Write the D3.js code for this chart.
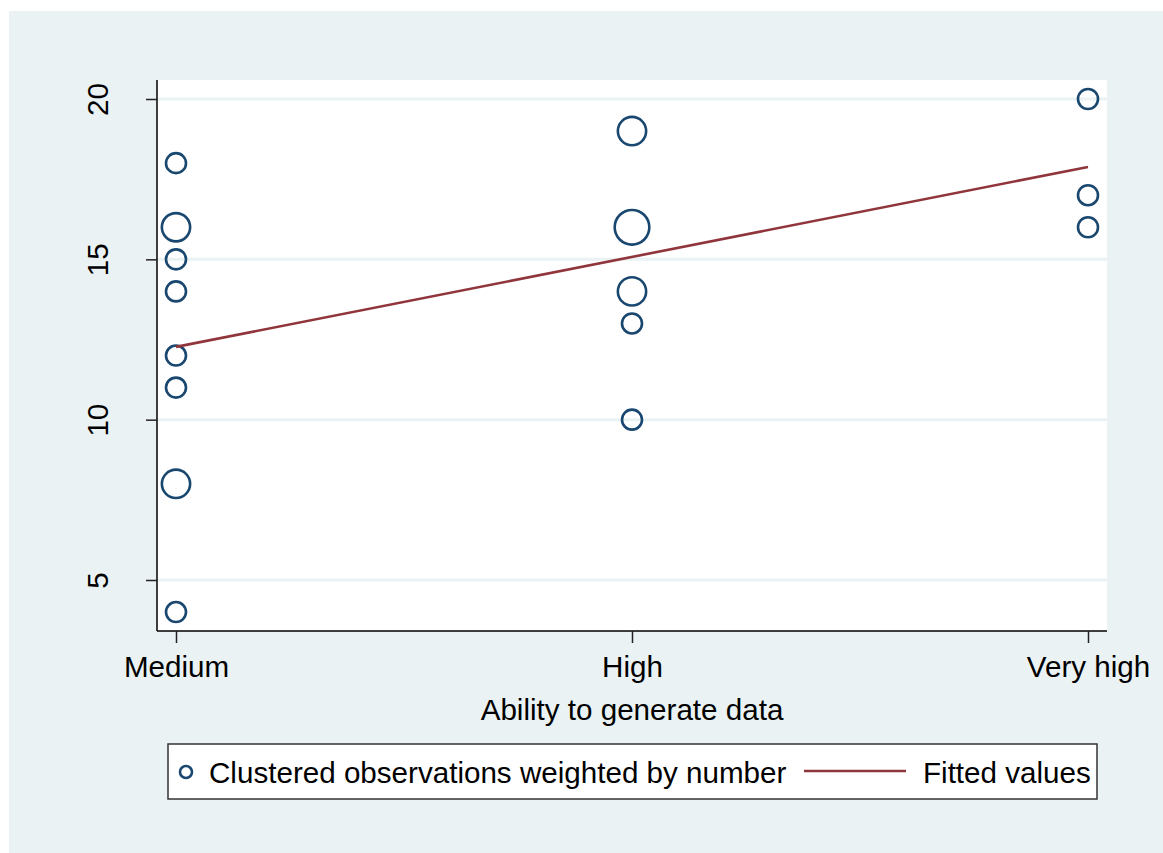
<!DOCTYPE html>
<html><head><meta charset="utf-8">
<script src="https://cdn.jsdelivr.net/npm/d3@7"></script>
<style>body{margin:0;background:#fff}svg{display:block}text{font-family:"Liberation Sans",Arial,sans-serif;fill:#000}</style>
</head><body><svg id="c" width="1163" height="853"></svg>
<script>
const categories = ["Medium","High","Very high"];
const pointCat   = ["Medium","Medium","Medium","Medium","Medium","Medium","Medium","Medium","High","High","High","High","High","Very high","Very high","Very high"];
const pointValue = [18,16,15,14,12,11,8,4,19,16,14,13,10,20,17,16];
const pointWeight= [1,2,1,1,1,1,2,1,2,3,2,1,1,1,1,1];
const fittedCat  = ["Medium","Very high"];
const fittedValue= [12.27,17.88];
const yTicks = [5,10,15,20];
const xTitle = "Ability to generate data";
const legendLabels = ["Clustered observations weighted by number","Fitted values"];

const FS = "29.6px";
const svg = d3.select("#c");
const bg = "#eaf2f3", navy = "#1a476f", red = "#90353b";
svg.append("rect").attr("x",9).attr("y",11).attr("width",1154).attr("height",842).attr("fill",bg);

const L=157,R=1107,T=80,B=631;
const catIdx = d3.scaleOrdinal().domain(categories).range([1,2,3]);
const x = d3.scaleLinear().domain([1-19/456, 3+19/456]).range([L,R]);
const y = d3.scaleLinear().domain([20,5]).range([99,580]);
const xp = c => x(catIdx(c));

svg.append("rect").attr("x",L).attr("y",T).attr("width",R-L).attr("height",B-T).attr("fill","#fff");
// gridlines
svg.append("g").selectAll("line").data(yTicks).join("line")
  .attr("x1",L).attr("x2",R).attr("y1",d=>y(d)).attr("y2",d=>y(d))
  .attr("stroke",bg).attr("stroke-width",3);

// y axis
const ya = svg.append("g").attr("transform",`translate(${L},0)`)
  .call(d3.axisLeft(y).tickValues(yTicks).tickSize(11).tickPadding(0));
ya.select(".domain").attr("d",`M0,${T}V${B}`).attr("stroke","#000").attr("stroke-width",1.5);
ya.selectAll(".tick line").attr("stroke","#222").attr("stroke-width",1.5);
ya.selectAll(".tick text").attr("x",0).attr("y",0).attr("dy",0).attr("transform","translate(-49,0) rotate(-90)")
  .attr("text-anchor","middle").style("font-size",FS).style("font-family","Liberation Sans, Arial, sans-serif").attr("fill","#000");

// x axis
const xa = svg.append("g").attr("transform",`translate(0,${B})`)
  .call(d3.axisBottom(x).tickValues([1,2,3]).tickFormat(d=>categories[d-1]).tickSize(12).tickPadding(0));
xa.select(".domain").attr("d",`M${L},0H${R}`).attr("stroke","#000").attr("stroke-width",1.5);
xa.selectAll(".tick line").attr("stroke","#222").attr("stroke-width",1.5);
xa.selectAll(".tick text").attr("y",46).attr("dy",0).style("font-size",FS).style("font-family","Liberation Sans, Arial, sans-serif").attr("fill","#000");

svg.append("text").attr("x",632).attr("y",720).attr("text-anchor","middle").style("font-size",FS).text(xTitle);

// points
const rBase = 10;
const pts = pointValue.map((v,i)=>({c:pointCat[i],v,w:pointWeight[i]}));
svg.append("g").selectAll("circle").data(pts).join("circle")
  .attr("cx",d=>xp(d.c)).attr("cy",d=>y(d.v)).attr("r",d=>rBase*Math.sqrt(d.w))
  .attr("fill","none").attr("stroke",navy).attr("stroke-width",2.6);

// fitted line
svg.append("path").datum(fittedValue.map((v,i)=>[xp(fittedCat[i]),y(v)]))
  .attr("d",d3.line()).attr("stroke",red).attr("stroke-width",2.6).attr("fill","none");

// legend
const lg = svg.append("g");
lg.append("rect").attr("x",168).attr("y",744).attr("width",929).attr("height",55).attr("fill","#fff").attr("stroke","#333").attr("stroke-width",1.5);
lg.append("circle").attr("cx",186).attr("cy",772).attr("r",6).attr("fill","none").attr("stroke",navy).attr("stroke-width",2.6);
lg.append("text").attr("x",209).attr("y",783).style("font-size",FS).text(legendLabels[0]);
lg.append("line").attr("x1",804).attr("x2",906).attr("y1",771).attr("y2",771).attr("stroke",red).attr("stroke-width",2.6);
lg.append("text").attr("x",923).attr("y",783).style("font-size",FS).text(legendLabels[1]);
</script></body></html>
